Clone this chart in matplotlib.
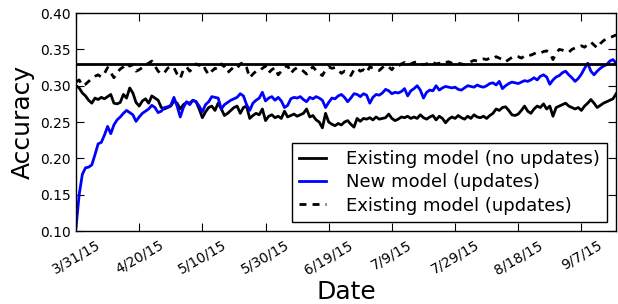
import matplotlib
matplotlib.use("Agg")
import matplotlib.pyplot as plt
import numpy as np
import pandas as pd

# daily accuracy, 3/31/15 .. 9/18/15
new_updates = [
    0.105, 0.150, 0.178, 0.187, 0.188, 0.191, 0.205, 0.220, 0.222, 0.232,
    0.244, 0.234, 0.246, 0.253, 0.257, 0.262, 0.266, 0.263, 0.260, 0.251,
    0.257, 0.262, 0.265, 0.268, 0.273, 0.270, 0.263, 0.265, 0.270, 0.271,
    0.273, 0.284, 0.272, 0.257, 0.270, 0.278, 0.274, 0.280, 0.278, 0.272,
    0.264, 0.274, 0.278, 0.285, 0.284, 0.283, 0.268, 0.274, 0.277, 0.280,
    0.282, 0.284, 0.289, 0.286, 0.274, 0.266, 0.276, 0.280, 0.283, 0.291,
    0.279, 0.283, 0.285, 0.280, 0.284, 0.279, 0.270, 0.273, 0.282, 0.284,
    0.283, 0.285, 0.281, 0.278, 0.284, 0.282, 0.285, 0.283, 0.280, 0.270,
    0.277, 0.283, 0.282, 0.286, 0.288, 0.284, 0.278, 0.283, 0.289, 0.288,
    0.285, 0.289, 0.287, 0.276, 0.284, 0.288, 0.287, 0.290, 0.295, 0.293,
    0.289, 0.291, 0.290, 0.292, 0.296, 0.286, 0.293, 0.296, 0.300, 0.294,
    0.283, 0.291, 0.294, 0.293, 0.300, 0.294, 0.297, 0.299, 0.298, 0.297,
    0.298, 0.295, 0.294, 0.297, 0.300, 0.299, 0.298, 0.301, 0.299, 0.298,
    0.300, 0.303, 0.304, 0.301, 0.306, 0.296, 0.300, 0.303, 0.305, 0.304,
    0.303, 0.305, 0.307, 0.306, 0.308, 0.311, 0.308, 0.313, 0.315, 0.312,
    0.302, 0.308, 0.312, 0.314, 0.318, 0.320, 0.315, 0.311, 0.306, 0.310,
    0.316, 0.324, 0.331, 0.320, 0.315, 0.320, 0.324, 0.327, 0.329, 0.334,
    0.336, 0.331,
]
old_no_updates = [
    0.300, 0.297, 0.290, 0.286, 0.280, 0.276, 0.283, 0.281, 0.284, 0.282,
    0.285, 0.288, 0.276, 0.275, 0.277, 0.288, 0.283, 0.297, 0.290, 0.277,
    0.272, 0.279, 0.282, 0.276, 0.286, 0.283, 0.280, 0.270, 0.268, 0.270,
    0.272, 0.279, 0.276, 0.268, 0.274, 0.277, 0.276, 0.280, 0.278, 0.268,
    0.256, 0.264, 0.270, 0.272, 0.266, 0.276, 0.268, 0.259, 0.262, 0.266,
    0.270, 0.272, 0.262, 0.270, 0.272, 0.255, 0.259, 0.262, 0.260, 0.268,
    0.252, 0.258, 0.260, 0.256, 0.258, 0.255, 0.265, 0.257, 0.259, 0.261,
    0.258, 0.260, 0.262, 0.268, 0.257, 0.259, 0.253, 0.250, 0.242, 0.262,
    0.250, 0.247, 0.245, 0.248, 0.246, 0.250, 0.252, 0.247, 0.243, 0.255,
    0.251, 0.255, 0.254, 0.256, 0.253, 0.257, 0.254, 0.255, 0.256, 0.261,
    0.255, 0.252, 0.254, 0.257, 0.256, 0.258, 0.255, 0.257, 0.255, 0.260,
    0.256, 0.254, 0.257, 0.259, 0.253, 0.258, 0.255, 0.249, 0.254, 0.257,
    0.255, 0.259, 0.256, 0.254, 0.258, 0.255, 0.260, 0.257, 0.256, 0.258,
    0.255, 0.259, 0.262, 0.268, 0.266, 0.270, 0.271, 0.266, 0.260, 0.259,
    0.261, 0.266, 0.272, 0.265, 0.262, 0.268, 0.272, 0.270, 0.275, 0.268,
    0.272, 0.258, 0.270, 0.272, 0.274, 0.276, 0.272, 0.270, 0.268, 0.270,
    0.266, 0.272, 0.276, 0.281, 0.276, 0.270, 0.273, 0.276, 0.278, 0.280,
    0.282, 0.289,
]
old_updates = [
    0.305, 0.308, 0.300, 0.302, 0.306, 0.310, 0.313, 0.315, 0.312, 0.317,
    0.325, 0.318, 0.311, 0.318, 0.323, 0.326, 0.331, 0.327, 0.329, 0.320,
    0.322, 0.325, 0.329, 0.331, 0.334, 0.327, 0.320, 0.316, 0.318, 0.324,
    0.327, 0.325, 0.316, 0.310, 0.322, 0.326, 0.320, 0.324, 0.330, 0.328,
    0.331, 0.322, 0.315, 0.320, 0.324, 0.322, 0.330, 0.326, 0.318, 0.322,
    0.326, 0.324, 0.330, 0.332, 0.325, 0.311, 0.316, 0.320, 0.320, 0.324,
    0.327, 0.318, 0.322, 0.325, 0.315, 0.320, 0.325, 0.328, 0.317, 0.322,
    0.325, 0.323, 0.320, 0.316, 0.322, 0.326, 0.321, 0.317, 0.314, 0.322,
    0.326, 0.324, 0.325, 0.322, 0.317, 0.320, 0.318, 0.314, 0.322, 0.324,
    0.320, 0.322, 0.318, 0.326, 0.324, 0.322, 0.321, 0.325, 0.328, 0.326,
    0.322, 0.328, 0.327, 0.330, 0.332, 0.328, 0.330, 0.332, 0.333, 0.330,
    0.329, 0.330, 0.333, 0.332, 0.330, 0.331, 0.330, 0.332, 0.333, 0.331,
    0.330, 0.331, 0.330, 0.329, 0.330, 0.333, 0.335, 0.334, 0.336, 0.337,
    0.336, 0.338, 0.337, 0.340, 0.338, 0.336, 0.333, 0.336, 0.339, 0.341,
    0.340, 0.338, 0.341, 0.343, 0.342, 0.344, 0.346, 0.345, 0.347, 0.348,
    0.345, 0.336, 0.345, 0.350, 0.349, 0.347, 0.346, 0.350, 0.352, 0.354,
    0.355, 0.353, 0.357, 0.360, 0.356, 0.352, 0.358, 0.362, 0.365, 0.366,
    0.368, 0.370,
]
baseline = 0.33
tick_dates = ["2015-03-31", "2015-04-20", "2015-05-10", "2015-05-30", "2015-06-19",
              "2015-07-09", "2015-07-29", "2015-08-18", "2015-09-07"]
y_ticks = [0.10, 0.15, 0.20, 0.25, 0.30, 0.35, 0.40]

dates = pd.date_range("2015-03-31", periods=len(new_updates), freq="D")

fig = plt.figure(figsize=(6.18, 3.04), dpi=100)
ax = fig.add_axes([0.123, 0.24, 0.874, 0.717])

ax.plot(dates, old_no_updates, color="black", lw=2, label="Existing model (no updates)")
ax.plot(dates, new_updates, color="blue", lw=2, label="New model (updates)")
ax.plot(dates, old_updates, color="black", lw=2, dashes=(2.5, 2.2),
        label="Existing model (updates)")
ax.axhline(baseline, color="black", lw=2)

ax.set_xlim(dates[0], dates[-1])
ax.set_ylim(0.10, 0.40)
ax.set_yticks(y_ticks)
ax.set_yticklabels([f"{v:.2f}" for v in y_ticks])
td = pd.to_datetime(tick_dates)
ax.set_xticks(td)
ax.set_xticklabels([f"{d.month}/{d.day}/{d:%y}" for d in td], rotation=30, ha="center")
ax.tick_params(direction="in", top=True, right=True, length=6, labelsize=10)
ax.tick_params(axis="x", pad=5)
for s in ax.spines.values():
    s.set_linewidth(1)

ax.set_xlabel("Date", fontsize=18, labelpad=2)
ax.set_ylabel("Accuracy", fontsize=18, labelpad=4)

leg = ax.legend(loc="lower right", fontsize=13, fancybox=False, framealpha=1,
                edgecolor="black", handlelength=1.5, handletextpad=1.1,
                labelspacing=0.3, borderpad=0.4, borderaxespad=0.5)
leg.get_frame().set_linewidth(1)

fig.savefig("out.png", dpi=100)
